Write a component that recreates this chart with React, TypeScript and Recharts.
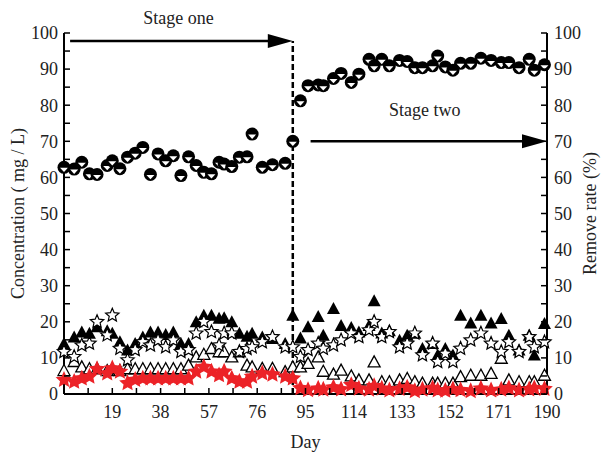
import { ReferenceLine, Scatter, ScatterChart, XAxis, YAxis } from "recharts";

// sampling days (shared by all series)
const DAYS = [
  0, 4, 7, 10, 13, 17, 19, 22, 25, 28, 31, 34, 37, 40, 43, 46, 49, 52, 55, 58,
  61, 63, 66, 69, 72, 74, 78, 82, 87, 90,
  93, 96, 100, 102, 106, 109, 113, 116, 120, 122, 125, 128, 132, 135, 138,
  141, 145, 147, 150, 153, 156, 160, 164, 168, 172, 175, 179, 183, 185, 189,
];

// remove rate (%), right axis
const REMOVE_RATE = [
  62.8, 62.3, 64.2, 61, 60.8, 63.3, 64.6, 62.4, 65.6, 66.7, 68.3, 60.8, 66.5,
  64.6, 66, 60.5, 65.7, 63.3, 61.4, 61, 64.2, 63.7, 63, 65.6, 65.7, 72, 62.8,
  63.5, 63.9, 70,
  81.2, 85.4, 85.6, 85.4, 87.4, 88.8, 86.3, 88.6, 92.7, 90.9, 92.7, 90.9, 92.4,
  92.1, 90.4, 90.4, 90.9, 93.6, 90.6, 89.7, 91.6, 91.6, 93, 92.4, 91.8, 91.8,
  90.4, 92.7, 89.7, 91.2,
];

// concentrations (mg/L), left axis
const FILLED_TRI = [
  14, 15.8, 17.2, 16.8, 18.6, 17.5, 16.8, 14.5, 12.2, 14, 15.8, 17.2, 17.2,
  16.5, 17.2, 14, 14, 20, 21.8, 21.8, 21, 21.1, 20, 16.8, 16, 16.8, 15.8, 15.4,
  14, 21.8,
  15.5, 18.6, 21.5, 16.3, 23.7, 19, 18.4, 17.2, 19, 25.8, 16.9, 17.5, 14.9,
  16.3, 16.8, 12.6, 14, 10.8, 12.6, 10.8, 21.8, 19.7, 21.8, 19.7, 20.9, 16.3,
  12.2, 16.3, 10.8, 19.5,
];
const OPEN_TRI = [
  6.5, 9, 7.5, 7, 7, 6.5, 7, 6.5, 7, 7, 7, 7, 7, 7, 7, 7, 8, 10.3, 11, 12.6,
  11.7, 11.7, 10.3, 11.7, 8, 7.5, 7.1, 7.1, 6.2, 7.5,
  7.5, 8.5, 10.3, 6.3, 5.5, 6.6, 5, 3.9, 3.9, 8.9, 3.4, 3.4, 3.9, 4.3, 3.4, 3,
  3, 3, 3, 3, 4.8, 5.2, 5.2, 5.7, 9.9, 3.9, 3.4, 3.4, 3.4, 5.2,
];
const OPEN_STAR = [
  11.7, 10.3, 13.5, 14, 20, 16.3, 21.8, 12.6, 9.4, 12.2, 14.4, 13.5, 14.9, 13,
  14.9, 11.7, 12.2, 16.8, 20, 17.2, 13.5, 16.8, 16.8, 11.7, 12.5, 13, 14.4,
  15.8, 13, 13,
  10.3, 12.2, 14, 12.6, 13.5, 14.9, 16.8, 15.8, 17.7, 20, 15.8, 17.2, 13, 14,
  16.8, 10.8, 14, 8.9, 11.2, 8.9, 12.6, 14.9, 16.8, 14, 11.7, 14.4, 11.7, 15.8,
  13, 14.4,
];
const RED_STAR = [
  3.9, 3.4, 4.3, 4.8, 6.9, 5.7, 7.1, 6.2, 3, 3.9, 4.3, 4.3, 4.3, 4.3, 4.3, 4.3,
  4.3, 6.2, 7.5, 6.2, 5.2, 6.2, 4.3, 3.4, 3.4, 4.8, 5.7, 5.4, 4.8, 4.3,
  1.6, 1.1, 1.5, 1.2, 1.8, 1.3, 2.5, 1.5, 1.2, 2.2, 1.5, 1.0, 1.4, 1.8, 0.8,
  1.2, 1.6, 1.0, 0.9, 1.3, 1.1, 0.8, 1.5, 1.0, 1.2, 1.6, 1.0, 1.3, 1.6, 1.4,
];

const X_TICKS = [
  0, 9.5, 19, 28.5, 38, 47.5, 57, 66.5, 76, 85.5, 95, 104.5, 114, 123.5, 133,
  142.5, 152, 161.5, 171, 180.5, 190,
];
const X_LABELS = [19, 38, 57, 76, 95, 114, 133, 152, 171, 190];
const Y_TICKS = [
  0, 5, 10, 15, 20, 25, 30, 35, 40, 45, 50, 55, 60, 65, 70, 75, 80, 85, 90, 95,
  100,
];
const Y_LABELS = [0, 10, 20, 30, 40, 50, 60, 70, 80, 90, 100];

const STAGE_SPLIT = 90;

const FONT = "'Liberation Serif', 'Times New Roman', serif";
const TEXT = "#222";
const RED = "#ec2227";

const toRows = (vals: number[]) => DAYS.map((day, i) => ({ day, v: vals[i] }));

const starPath = (cx: number, cy: number, R: number, r: number) => {
  const pts: string[] = [];
  for (let i = 0; i < 10; i++) {
    const rad = i % 2 === 0 ? R : r;
    const a = -Math.PI / 2 + (i * Math.PI) / 5;
    pts.push(`${cx + rad * Math.cos(a)},${cy + rad * Math.sin(a)}`);
  }
  return pts.join(" ");
};

const HalfCircle = ({ cx, cy }: any) => (
  <g>
    <circle cx={cx} cy={cy} r={6.5} fill="#000" />
    <polygon
      points={`${cx - 4},${cy + 0.5} ${cx + 4},${cy + 0.5} ${cx},${cy + 4.8}`}
      fill="#fff"
    />
  </g>
);

const FilledTri = ({ cx, cy }: any) => (
  <polygon points={`${cx},${cy - 6.5} ${cx - 6.5},${cy + 5.5} ${cx + 6.5},${cy + 5.5}`} fill="#000" />
);

const OpenTri = ({ cx, cy }: any) => (
  <polygon
    points={`${cx},${cy - 6} ${cx - 6},${cy + 5} ${cx + 6},${cy + 5}`}
    fill="#fff"
    stroke="#000"
    strokeWidth={1.3}
  />
);

const OpenStar = ({ cx, cy }: any) => (
  <polygon points={starPath(cx, cy, 7, 3.2)} fill="#fff" stroke="#000" strokeWidth={1.2} />
);

const RedStar = ({ cx, cy }: any) => (
  <polygon points={starPath(cx, cy, 8.8, 4.2)} fill={RED} />
);

const XTick = ({ x, y, payload }: any) => {
  const v = payload.value;
  return (
    <g>
      <line x1={x} x2={x} y1={y} y2={y - 6} stroke="#000" strokeWidth={1.5} />
      {X_LABELS.includes(v) ? (
        <text x={x} y={y + 24} textAnchor="middle" fontSize={18} style={{ fontFamily: FONT }} fill={TEXT}>
          {v}
        </text>
      ) : null}
    </g>
  );
};

const LeftTick = ({ x, y, payload }: any) => {
  const v = payload.value;
  return (
    <g>
      <line x1={x} x2={x + 6} y1={y} y2={y} stroke="#000" strokeWidth={1.5} />
      {Y_LABELS.includes(v) ? (
        <text x={x - 6} y={y} dy="0.35em" textAnchor="end" fontSize={18} style={{ fontFamily: FONT }} fill={TEXT}>
          {v}
        </text>
      ) : null}
    </g>
  );
};

const RightTick = ({ x, y, payload }: any) => {
  const v = payload.value;
  return (
    <g>
      <line x1={x} x2={x - 6} y1={y} y2={y} stroke="#000" strokeWidth={1.5} />
      {Y_LABELS.includes(v) ? (
        <text x={x + 7} y={y} dy="0.35em" textAnchor="start" fontSize={18} style={{ fontFamily: FONT }} fill={TEXT}>
          {v}
        </text>
      ) : null}
    </g>
  );
};

const arrowShape = (label: string, lift: number, shift: number) => (props: any) => {
  const { x1, y1, x2 } = props;
  return (
    <g>
      <line x1={x1} y1={y1} x2={x2 - 20} y2={y1} stroke="#000" strokeWidth={2.5} />
      <polygon points={`${x2 - 25},${y1 - 7} ${x2},${y1} ${x2 - 25},${y1 + 7}`} fill="#000" />
      <text
        x={(x1 + x2) / 2 + shift}
        y={y1 - lift}
        textAnchor="middle"
        fontSize={18}
        style={{ fontFamily: FONT }}
        fill={TEXT}
      >
        {label}
      </text>
    </g>
  );
};

export default function App() {
  return (
    <div style={{ position: "absolute", left: 0, top: 0, background: "#fff", fontFamily: FONT }}>
      <ScatterChart width={608} height={457} margin={{ top: 33, right: 0, bottom: 0, left: 0 }}>
        <XAxis
          type="number"
          dataKey="day"
          domain={[0, 190]}
          ticks={X_TICKS}
          interval={0}
          tick={<XTick />}
          tickSize={0}
          tickMargin={0}
          tickLine={false}
          axisLine={{ stroke: "#000", strokeWidth: 2 }}
          height={63}
          label={{ value: "Day", position: "insideBottom", offset: 9, fontSize: 18, fill: TEXT }}
        />
        <YAxis
          yAxisId="left"
          type="number"
          dataKey="v"
          domain={[0, 100]}
          ticks={Y_TICKS}
          interval={0}
          tick={<LeftTick />}
          tickSize={0}
          tickMargin={0}
          tickLine={false}
          axisLine={{ stroke: "#000", strokeWidth: 2 }}
          width={64}
          label={{
            value: "Concentration ( mg / L)",
            angle: -90,
            position: "insideLeft",
            offset: 18,
            style: { textAnchor: "middle" },
            fontSize: 18,
            fill: TEXT,
          }}
        />
        <YAxis
          yAxisId="right"
          orientation="right"
          type="number"
          dataKey="v"
          domain={[0, 100]}
          ticks={Y_TICKS}
          interval={0}
          tick={<RightTick />}
          tickSize={0}
          tickMargin={0}
          tickLine={false}
          axisLine={{ stroke: "#000", strokeWidth: 2 }}
          width={61}
          label={{
            value: "Remove rate (%)",
            angle: -90,
            position: "insideRight",
            offset: 18,
            style: { textAnchor: "middle" },
            fontSize: 18,
            fill: TEXT,
          }}
        />
        <ReferenceLine
          yAxisId="left"
          segment={[
            { x: STAGE_SPLIT, y: 0 },
            { x: STAGE_SPLIT, y: 97.8 },
          ]}
          stroke="#000"
          strokeWidth={2.5}
          strokeDasharray="6 3"
        />
        <ReferenceLine
          yAxisId="left"
          segment={[
            { x: 2.4, y: 97.8 },
            { x: STAGE_SPLIT, y: 97.8 },
          ]}
          shape={arrowShape("Stage one", 17, -3)}
        />
        <ReferenceLine
          yAxisId="left"
          segment={[
            { x: 97, y: 70 },
            { x: 190, y: 70 },
          ]}
          shape={arrowShape("Stage two", 25, -4)}
        />
        <Scatter yAxisId="left" data={toRows(FILLED_TRI)} shape={<FilledTri />} isAnimationActive={false} />
        <Scatter yAxisId="left" data={toRows(OPEN_TRI)} shape={<OpenTri />} isAnimationActive={false} />
        <Scatter yAxisId="left" data={toRows(OPEN_STAR)} shape={<OpenStar />} isAnimationActive={false} />
        <Scatter yAxisId="left" data={toRows(RED_STAR)} shape={<RedStar />} isAnimationActive={false} />
        <Scatter yAxisId="right" data={toRows(REMOVE_RATE)} shape={<HalfCircle />} isAnimationActive={false} />
      </ScatterChart>
    </div>
  );
}
